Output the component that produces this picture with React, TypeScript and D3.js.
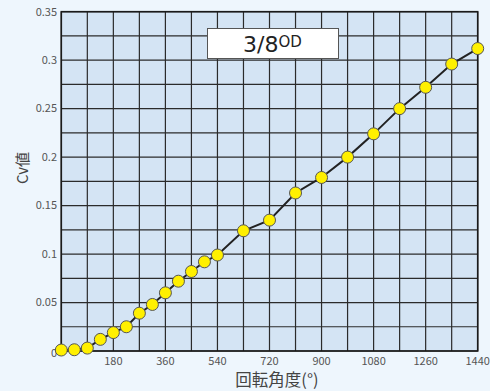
import React from "react";
import * as d3 from "d3";

const angles = [0, 45, 90, 135, 180, 225, 270, 315, 360, 405, 450, 495, 540, 630, 720, 810, 900, 990, 1080, 1170, 1260, 1350, 1440];
const cvValues = [0.001, 0.0013, 0.003, 0.012, 0.019, 0.025, 0.039, 0.048, 0.06, 0.072, 0.082, 0.092, 0.099, 0.124, 0.135, 0.163, 0.179, 0.2, 0.224, 0.25, 0.272, 0.296, 0.312];
const xTicks = [180, 360, 540, 720, 900, 1080, 1260, 1440];
const yTicks = [0.05, 0.1, 0.15, 0.2, 0.25, 0.3, 0.35];
const xGrid = d3.range(0, 1441, 90);
const yGrid = d3.range(0, 15).map((i) => i * 0.025);
const titleMain = "3/8";
const titleSup = "OD";
const xLabel = "回転角度(°)";
const yLabel = "Cv値";

const W = 490;
const H = 391;
const M = { left: 61.3, right: 477.7, top: 11.7, bottom: 351 };
const FONT = "'Noto Sans CJK JP', 'Noto Sans', sans-serif";

export default function App() {
  const x = d3.scaleLinear().domain([0, 1440]).range([M.left, M.right]);
  const y = d3.scaleLinear().domain([0, 0.35]).range([M.bottom, M.top]);
  const pts = angles.map((a, i) => [a, cvValues[i]] as [number, number]);
  const line = d3.line<[number, number]>().x((d) => x(d[0])).y((d) => y(d[1]));

  return (
    <svg width={W} height={H} style={{ position: "absolute", left: 0, top: 0, background: "#eef6fd" }} fontFamily={FONT}>
      <rect x={0} y={0} width={W} height={H} fill="#eef6fd" />
      <rect x={M.left} y={M.top} width={M.right - M.left} height={M.bottom - M.top} fill="#d4e4f4" />
      {xGrid.map((g) => (
        <line key={"vx" + g} x1={x(g)} x2={x(g)} y1={M.top} y2={M.bottom} stroke="#2b2b2b" strokeWidth={1.2} />
      ))}
      {yGrid.map((g) => (
        <line key={"hy" + g} x1={M.left} x2={M.right} y1={y(g)} y2={y(g)} stroke="#2b2b2b" strokeWidth={1.2} />
      ))}
      <rect x={M.left} y={M.top} width={M.right - M.left} height={M.bottom - M.top} fill="none" stroke="#1a1a1a" strokeWidth={1.6} />

      {yTicks.map((t) => (
        <text key={"yt" + t} x={57} y={y(t)} dy="0.35em" textAnchor="end" fontSize={11} fill="#555">
          {String(t)}
        </text>
      ))}
      <text x={57} y={357} textAnchor="end" fontSize={11} fill="#555">0</text>
      {xTicks.map((t) => (
        <text key={"xt" + t} x={x(t)} y={365} textAnchor="middle" fontSize={11} fill="#555">
          {String(t)}
        </text>
      ))}

      <text x={277} y={386} textAnchor="middle" fontSize={16.5} fill="#444">{xLabel}</text>
      <text transform={`translate(22.5,168) rotate(-90)`} dy="0.35em" textAnchor="middle" fontSize={15} fill="#444">{yLabel}</text>

      <rect x={207.5} y={28.5} width={131} height={30} fill="#ffffff" stroke="#555" strokeWidth={1} />
      <text x={243} y={52} fontSize={22} fill="#222" fontFamily="'DejaVu Sans', sans-serif">
        {titleMain}
        <tspan fontSize={15} dy={-5}>{titleSup}</tspan>
      </text>

      <path d={line(pts) || ""} fill="none" stroke="#222" strokeWidth={2} />
      {pts.map((p, i) => (
        <circle key={"c" + i} cx={x(p[0])} cy={y(p[1])} r={6} fill="#fff000" stroke="#555" strokeWidth={1} />
      ))}
    </svg>
  );
}
